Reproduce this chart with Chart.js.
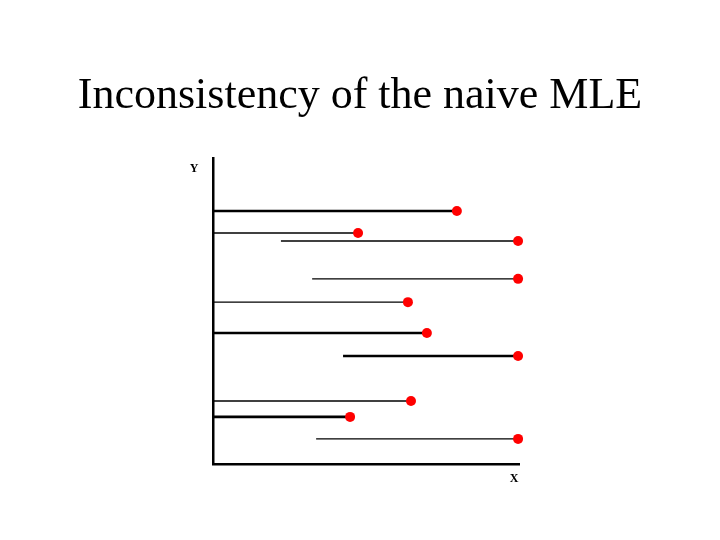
<!DOCTYPE html>
<html>
<head>
<meta charset="utf-8">
<title>Inconsistency of the naive MLE</title>
<script src="https://cdn.jsdelivr.net/npm/chart.js@4.4.1/dist/chart.umd.min.js"></script>
<style>
  html, body { margin: 0; padding: 0; background: #fff; }
  #wrap { width: 720px; height: 540px; }
</style>
</head>
<body>
<div id="wrap"><canvas id="mleChart"></canvas></div>
<script>
// each observation: a horizontal segment from start to end, red dot at the end
const segY     = [82.7, 75.5, 72.9, 60.5, 52.9, 42.8, 35.3, 20.6, 15.4, 8.2];
const segStart = [0, 0, 22.2, 32.4, 0, 0, 42.5, 0, 0, 33.7];
const segEnd   = [79.7, 47.4, 99.7, 99.7, 63.7, 69.9, 99.7, 64.7, 44.8, 99.7];

// line weights as drawn in the picture (thick / thin)
const segWidth = [2.6, 1.4, 1.5, 1.4, 1.4, 2.6, 2.6, 1.4, 2.6, 1.4];

const titleText = 'Inconsistency of the naive MLE';

const datasets = segY.map((y, i) => ({
  data: [{ x: segStart[i], y: y }, { x: segEnd[i], y: y }],
  borderColor: '#000',
  borderWidth: segWidth[i],
  pointRadius: [0, 5],
  pointBackgroundColor: '#ff0000',
  pointBorderWidth: 0,
  showLine: true,
  clip: false
}));

// title + axis letters, drawn on the canvas so the title is not squeezed by the padding
const textBits = {
  id: 'textBits',
  afterDraw(chart) {
    const { ctx, chartArea, width } = chart;
    ctx.save();
    ctx.fillStyle = '#000';
    ctx.textAlign = 'center';
    ctx.textBaseline = 'alphabetic';
    ctx.font = '44px "Liberation Serif", "Times New Roman", serif';
    ctx.fillText(titleText, width / 2, 108);

    ctx.font = 'bold 12px "Liberation Serif", "Times New Roman", serif';
    ctx.textBaseline = 'middle';
    ctx.fillText('Y', chartArea.left - 19, chartArea.top + 11);
    ctx.fillText('X', chartArea.right - 5, chartArea.bottom + 15);
    ctx.restore();
  }
};

new Chart(document.getElementById('mleChart'), {
  type: 'scatter',
  data: { datasets: datasets },
  options: {
    responsive: true,
    maintainAspectRatio: false,
    animation: false,
    layout: { padding: { left: 213, right: 201, top: 158, bottom: 76 } },
    plugins: {
      legend: { display: false },
      tooltip: { enabled: false },
      title: { display: false }
    },
    scales: {
      x: {
        type: 'linear',
        min: 0,
        max: 100,
        ticks: { display: false },
        grid: { drawOnChartArea: false, drawTicks: false },
        border: { color: '#000', width: 2.5 }
      },
      y: {
        type: 'linear',
        min: 0,
        max: 100,
        ticks: { display: false },
        grid: { drawOnChartArea: false, drawTicks: false },
        border: { color: '#000', width: 2.5 }
      }
    }
  },
  plugins: [textBits]
});
</script>
</body>
</html>
